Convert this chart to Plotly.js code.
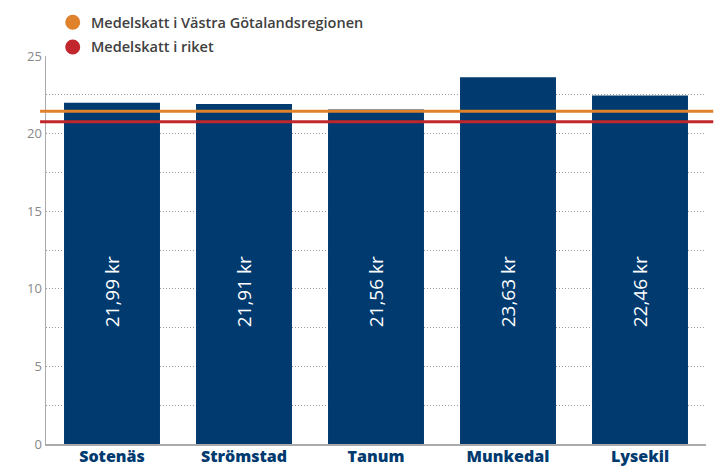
<!DOCTYPE html>
<html>
<head>
<meta charset="utf-8">
<script src="https://cdn.plot.ly/plotly-3.0.1.min.js"></script>
<style>html,body{margin:0;padding:0;background:#fff;}#chart{width:715px;height:467px;}</style>
</head>
<body>
<div id="chart"></div>
<script>
const categories = ['Sotenäs', 'Strömstad', 'Tanum', 'Munkedal', 'Lysekil'];
const taxValues = [21.99, 21.91, 21.56, 23.63, 22.46];
const refNames = ['Medelskatt i Västra Götalandsregionen', 'Medelskatt i riket'];
const refValues = [21.44, 20.77];
const refColors = ['#E0812C', '#C1272D'];
const barColor = '#003A6F';

const fmt = v => v.toFixed(2).replace('.', ',') + ' kr';

const traces = [{
  type: 'bar',
  x: categories,
  y: taxValues,
  marker: {color: barColor},
  showlegend: false,
  hoverinfo: 'x+y'
}];

const shapes = refValues.map((v, i) => ({
  type: 'line', xref: 'paper', x0: -0.009, x1: 1.011, yref: 'y', y0: v, y1: v,
  line: {color: refColors[i], width: 3}, layer: 'above'
}));

// legend (manual)
const legendY = [1.0869, 1.0232];
refNames.forEach((n, i) => {
  shapes.push({
    type: 'circle', xref: 'paper', yref: 'paper', xsizemode: 'pixel', ysizemode: 'pixel',
    xanchor: 0.0405, yanchor: legendY[i], x0: -7.5, x1: 7.5, y0: -7.5, y1: 7.5,
    fillcolor: refColors[i], line: {width: 0}, layer: 'above'
  });
});

const annotations = categories.map((c, i) => ({
  x: c, y: 0.391, xref: 'x', yref: 'paper', text: fmt(taxValues[i]), textangle: -90,
  showarrow: false, font: {family: 'Open Sans, sans-serif', size: 19, color: '#ffffff'}
}));
refNames.forEach((n, i) => {
  annotations.push({
    x: 0.0652, y: legendY[i], xref: 'paper', yref: 'paper', xanchor: 'left', yanchor: 'middle',
    text: n, showarrow: false,
    font: {family: 'Open Sans, sans-serif', size: 14.5, color: '#404040', weight: 600}
  });
});

const layout = {
  width: 715, height: 467,
  margin: {l: 46, r: 9, t: 56, b: 23},
  paper_bgcolor: '#fff', plot_bgcolor: '#fff',
  bargap: 0.273,
  font: {family: 'Open Sans, sans-serif'},
  showlegend: false,
  xaxis: {
    type: 'category', showgrid: false, showline: true, linecolor: '#aaa', linewidth: 1.5,
    tickfont: {size: 16, color: barColor, family: 'Open Sans, sans-serif', weight: 800},
    ticks: '', zeroline: false, fixedrange: true, ticklabelstandoff: -3
  },
  yaxis: {
    range: [0, 25], dtick: 5, showline: true, linecolor: '#aaa', linewidth: 1.5,
    showgrid: true, gridcolor: '#999', griddash: '1px,2px', gridwidth: 1,
    minor: {dtick: 2.5, showgrid: true, gridcolor: '#999', griddash: '1px,2px', gridwidth: 1},
    zeroline: false, ticks: '', ticklabelstandoff: 0,
    tickfont: {size: 13, color: '#888', family: 'Open Sans, sans-serif'}, fixedrange: true
  },
  shapes: shapes,
  annotations: annotations
};

Plotly.newPlot('chart', traces, layout, {displayModeBar: false, staticPlot: true});
</script>
</body>
</html>
